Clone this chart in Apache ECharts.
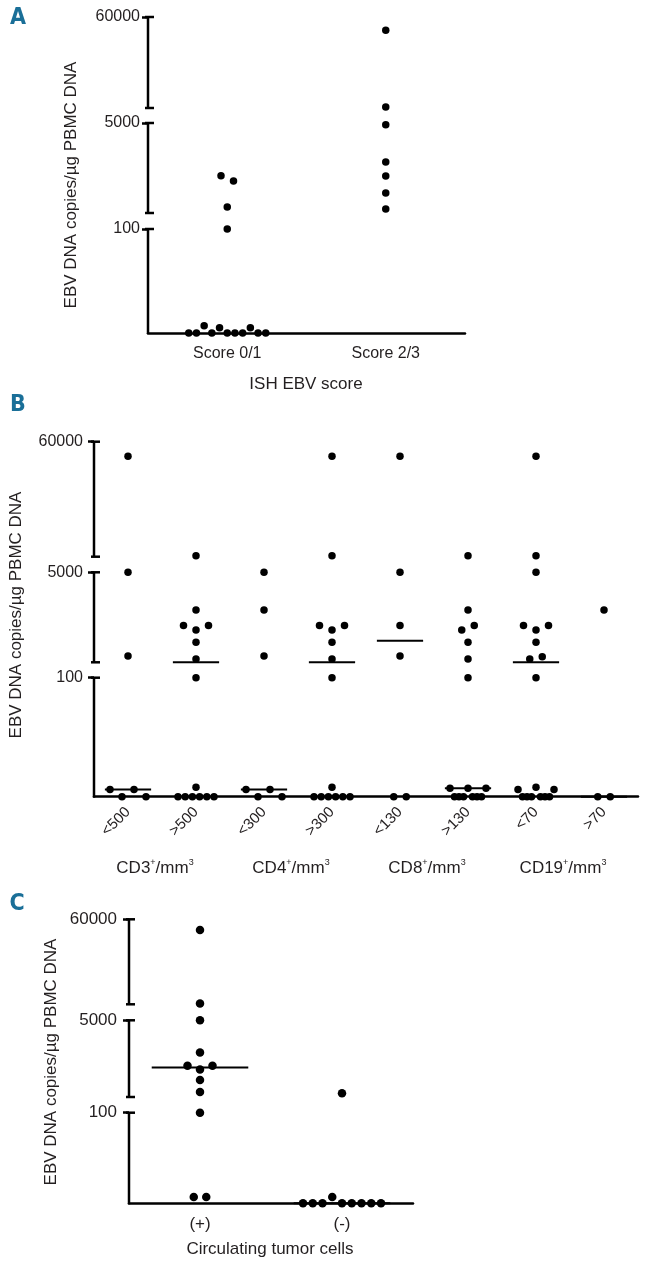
<!DOCTYPE html>
<html>
<head>
<meta charset="utf-8">
<script src="https://cdn.jsdelivr.net/npm/echarts@6/dist/echarts.min.js"></script>
<style>
  html, body { margin: 0; padding: 0; background: #fff; }
  #chart { width: 648px; height: 1266px; }
</style>
</head>
<body>
<div id="chart"></div>
<script>
// ---- data (EBV DNA copies/ug PBMC DNA) ----
// panel A
const scoreCats = ['Score 0/1', 'Score 2/3'];
const score01 = [2130, 1840, 427, 100, 0, 0, 7, 0, 5, 0, 0, 0, 5, 0, 0];
const score23 = [52000, 5600, 4900, 2880, 2110, 1190, 320];

// panel B
const cellCats = ['<500', '>500', '<300', '>300', '<130', '>130', '<70', '>70'];
const cellTitles = ['CD3', 'CD4', 'CD8', 'CD19'];
const cd3Low = [53000, 5000, 440, 6, 0, 6, 0];
const cd3High = [5500, 2950, 2100, 1860, 2100, 1190, 280, 100, 0, 0, 0, 0, 0, 0, 8];
const cd4Low = [5000, 2950, 440, 6, 0, 6, 0];
const cd4High = [53000, 5500, 2100, 1860, 2100, 1190, 280, 100, 0, 0, 0, 0, 0, 0, 8];
const cd8Low = [53000, 5000, 2100, 440, 0, 0];
const cd8High = [5500, 2950, 1860, 2100, 1190, 280, 100, 7, 0, 0, 0, 7, 0, 0, 0, 7];
const cd19Low = [53000, 5500, 5000, 2100, 1860, 2100, 1190, 280, 400, 100, 6, 0, 0, 0, 8, 0, 0, 0, 6];
const cd19High = [2950, 0, 0];

// panel C
const ctcCats = ['(+)', '(-)'];
const ctcPos = [53000, 5500, 5000, 2950, 2100, 1860, 2100, 1190, 420, 100, 7, 7];
const ctcNeg = [340, 0, 0, 0, 7, 0, 0, 0, 0, 0];

// broken y axis: 0-100 | 100-5000 | 5000-60000
const yTickVals = [100, 5000, 60000];
const yTickText = ['100', '5000', '60000'];

const FONT = 'Liberation Sans, Arial, sans-serif';
const INK = '#231f20';

// segment lengths in px: [0-100, gap, 100-5000, gap, 5000-60000]
const panels = [
  { left: 148, top: 17, width: 317, seg: [104, 16, 90, 15, 91], cats: scoreCats,
    groups: [score01, score23], spread: 77, dot: 7.5, median: false,
    fs: 16, yMargin: 8, xMargin: 13, rotate: 0 },
  { left: 94, top: 441.7, width: 544, seg: [119, 15.4, 90, 15.6, 115], cats: cellCats,
    groups: [cd3Low, cd3High, cd4Low, cd4High, cd8Low, cd8High, cd19Low, cd19High],
    spread: 36, dot: 7.5, median: true, fs: 16, yMargin: 11, xMargin: 13, rotate: 45, xfs: 15 },
  { left: 129, top: 919.3, width: 284, seg: [90.6, 15.7, 76.7, 16, 85], cats: ctcCats,
    groups: [ctcPos, ctcNeg], spread: 78, dot: 8.5, median: true,
    fs: 17, yMargin: 12, xMargin: 13, rotate: 0 }
];

function toAxis(v, seg, lineMode) {
  const [b, g1, m, g2, t] = seg;
  if (v < 100 || (v === 100 && !lineMode)) return v / 100 * b;
  if (v <= 5000) return b + g1 + (v - 100) / 4900 * m;
  return b + g1 + m + g2 + (v - 5000) / 55000 * t;
}

function median(a) {
  const s = a.slice().sort((x, y) => x - y);
  const n = s.length;
  return n % 2 ? s[(n - 1) / 2] : (s[n / 2 - 1] + s[n / 2]) / 2;
}

// column scatter: points close in y share a row and are spread sideways
function swarm(values, ci, seg, bandPx, spreadPx) {
  const bins = [];
  values.forEach(v => {
    const y = toAxis(v, seg, false);
    let bin = bins.find(b => Math.abs(b.y - y) < 9);
    if (!bin) { bin = { y: y, items: [] }; bins.push(bin); }
    bin.items.push(y);
  });
  const pts = [];
  bins.forEach(bin => {
    const n = bin.items.length;
    const step = n > 1 ? Math.min(12.5, spreadPx / (n - 1)) : 0;
    bin.items.forEach((y, k) => {
      pts.push([ci + (k - (n - 1) / 2) * step / bandPx, y]);
    });
  });
  return pts;
}

const grid = [], xAxis = [], yAxis = [], series = [];

panels.forEach((p, i) => {
  const [b, g1, m, g2, t] = p.seg;
  const total = b + g1 + m + g2 + t;
  const n = p.cats.length;
  const band = p.width / n;
  const tickPos = yTickVals.map(v => toAxis(v, p.seg, false));

  grid.push({ left: p.left, top: p.top, width: p.width, height: total,
    containLabel: false, outerBoundsMode: 'none' });

  xAxis.push({
    type: 'category', gridIndex: i, data: p.cats, boundaryGap: true,
    axisLine: { onZero: false, lineStyle: { color: '#000', width: 2.5 } },
    axisTick: { alignWithLabel: true, length: 6, lineStyle: { color: '#000', width: 2.5 } },
    axisLabel: { color: INK, fontFamily: FONT, fontSize: p.xfs || p.fs, margin: p.xMargin,
      rotate: p.rotate, interval: 0 },
    splitLine: { show: false }
  });
  xAxis.push({ type: 'value', gridIndex: i, min: -0.5, max: n - 0.5, show: false });

  yAxis.push({
    type: 'value', gridIndex: i, min: 0, max: total,
    axisLine: { show: false, onZero: false }, splitLine: { show: false },
    axisTick: { show: true, length: 6, customValues: tickPos,
      lineStyle: { color: '#000', width: 2.5 } },
    axisLabel: { customValues: tickPos, color: INK, fontFamily: FONT, fontSize: p.fs,
      margin: p.yMargin,
      formatter: v => {
        const k = tickPos.findIndex(q => Math.abs(q - v) < 0.01);
        return k >= 0 ? yTickText[k] : '';
      } }
  });

  // broken y axis line
  series.push({
    type: 'custom', xAxisIndex: 2 * i + 1, yAxisIndex: i, clip: false, silent: true, z: 3,
    data: [[0, b, 0], [b + g1, b + g1 + m, 1], [b + g1 + m + g2, total, 1]],
    renderItem: (params, api) => {
      const lo = api.coord([-0.5, api.value(0)]);
      const hi = api.coord([-0.5, api.value(1)]);
      const st = { stroke: '#000', lineWidth: 2.5 };
      const kids = [
        { type: 'line', shape: { x1: lo[0], y1: lo[1] + (api.value(2) ? 0 : 1), x2: hi[0], y2: hi[1] }, style: st },
        { type: 'line', shape: { x1: hi[0] - 3, y1: hi[1], x2: hi[0] + 6, y2: hi[1] }, style: st }
      ];
      if (api.value(2)) {
        kids.push({ type: 'line', shape: { x1: lo[0] - 3, y1: lo[1], x2: lo[0] + 6, y2: lo[1] }, style: st });
      }
      return { type: 'group', children: kids };
    }
  });

  p.groups.forEach((vals, ci) => {
    series.push({
      type: 'scatter', xAxisIndex: 2 * i + 1, yAxisIndex: i, symbol: 'circle',
      symbolSize: p.dot, itemStyle: { color: '#000', opacity: 1 }, z: 5, silent: true,
      data: swarm(vals, ci, p.seg, band, p.spread)
    });
  });

  if (p.median) {
    series.push({
      type: 'custom', xAxisIndex: 2 * i + 1, yAxisIndex: i, clip: false, silent: true, z: 4,
      data: p.groups.map((vals, ci) => [ci, toAxis(median(vals), p.seg, true)]),
      renderItem: (params, api) => {
        const c = api.coord([api.value(0), api.value(1)]);
        const half = api.size([0.34, 0])[0];
        return { type: 'line', shape: { x1: c[0] - half, y1: c[1], x2: c[0] + half, y2: c[1] },
          style: { stroke: '#000', lineWidth: 2 } };
      }
    });
  }
});

function letter(txt, x, y) {
  return { type: 'text', x: x, y: y, style: { text: txt, fill: '#1a6f98',
    font: 'bold 23px "Liberation Sans Narrow", "DejaVu Sans Condensed", sans-serif',
    align: 'center', verticalAlign: 'middle' } };
}
function vTitle(x, y) {
  return { type: 'text', x: x, y: y, rotation: Math.PI / 2, style: {
    text: 'EBV DNA copies/\u00b5g PBMC DNA', fill: INK, font: '17px ' + FONT,
    align: 'center', verticalAlign: 'middle' } };
}
function hText(txt, x, y, fs) {
  return { type: 'text', x: x, y: y, style: { text: txt, fill: INK, font: fs + 'px ' + FONT,
    align: 'center', verticalAlign: 'middle' } };
}

const graphic = [
  letter('A', 18, 18), letter('B', 18, 405), letter('C', 17, 904),
  vTitle(71, 185), vTitle(16, 615), vTitle(51, 1062),
  hText('ISH EBV score', 306, 384, 17),
  hText('Circulating tumor cells', 270, 1249, 17)
];
const pb = panels[1];
const bandB = pb.width / pb.cats.length;
cellTitles.forEach((name, k) => {
  graphic.push({
    type: 'text', x: pb.left + bandB * (2 * k + 1) - 7, y: 868,
    style: {
      text: '{n|' + name + '}{s|+}{n|/mm}{s|3}', align: 'center', verticalAlign: 'middle',
      rich: {
        n: { fontSize: 17, fontFamily: FONT, fill: INK, lineHeight: 20 },
        s: { fontSize: 9, fontFamily: FONT, fill: INK, lineHeight: 10, verticalAlign: 'top' }
      }
    }
  });
});

const chart = echarts.init(document.getElementById('chart'));
chart.setOption({
  animation: false,
  backgroundColor: '#fff',
  grid: grid,
  xAxis: xAxis,
  yAxis: yAxis,
  series: series,
  graphic: graphic
});
</script>
</body>
</html>
